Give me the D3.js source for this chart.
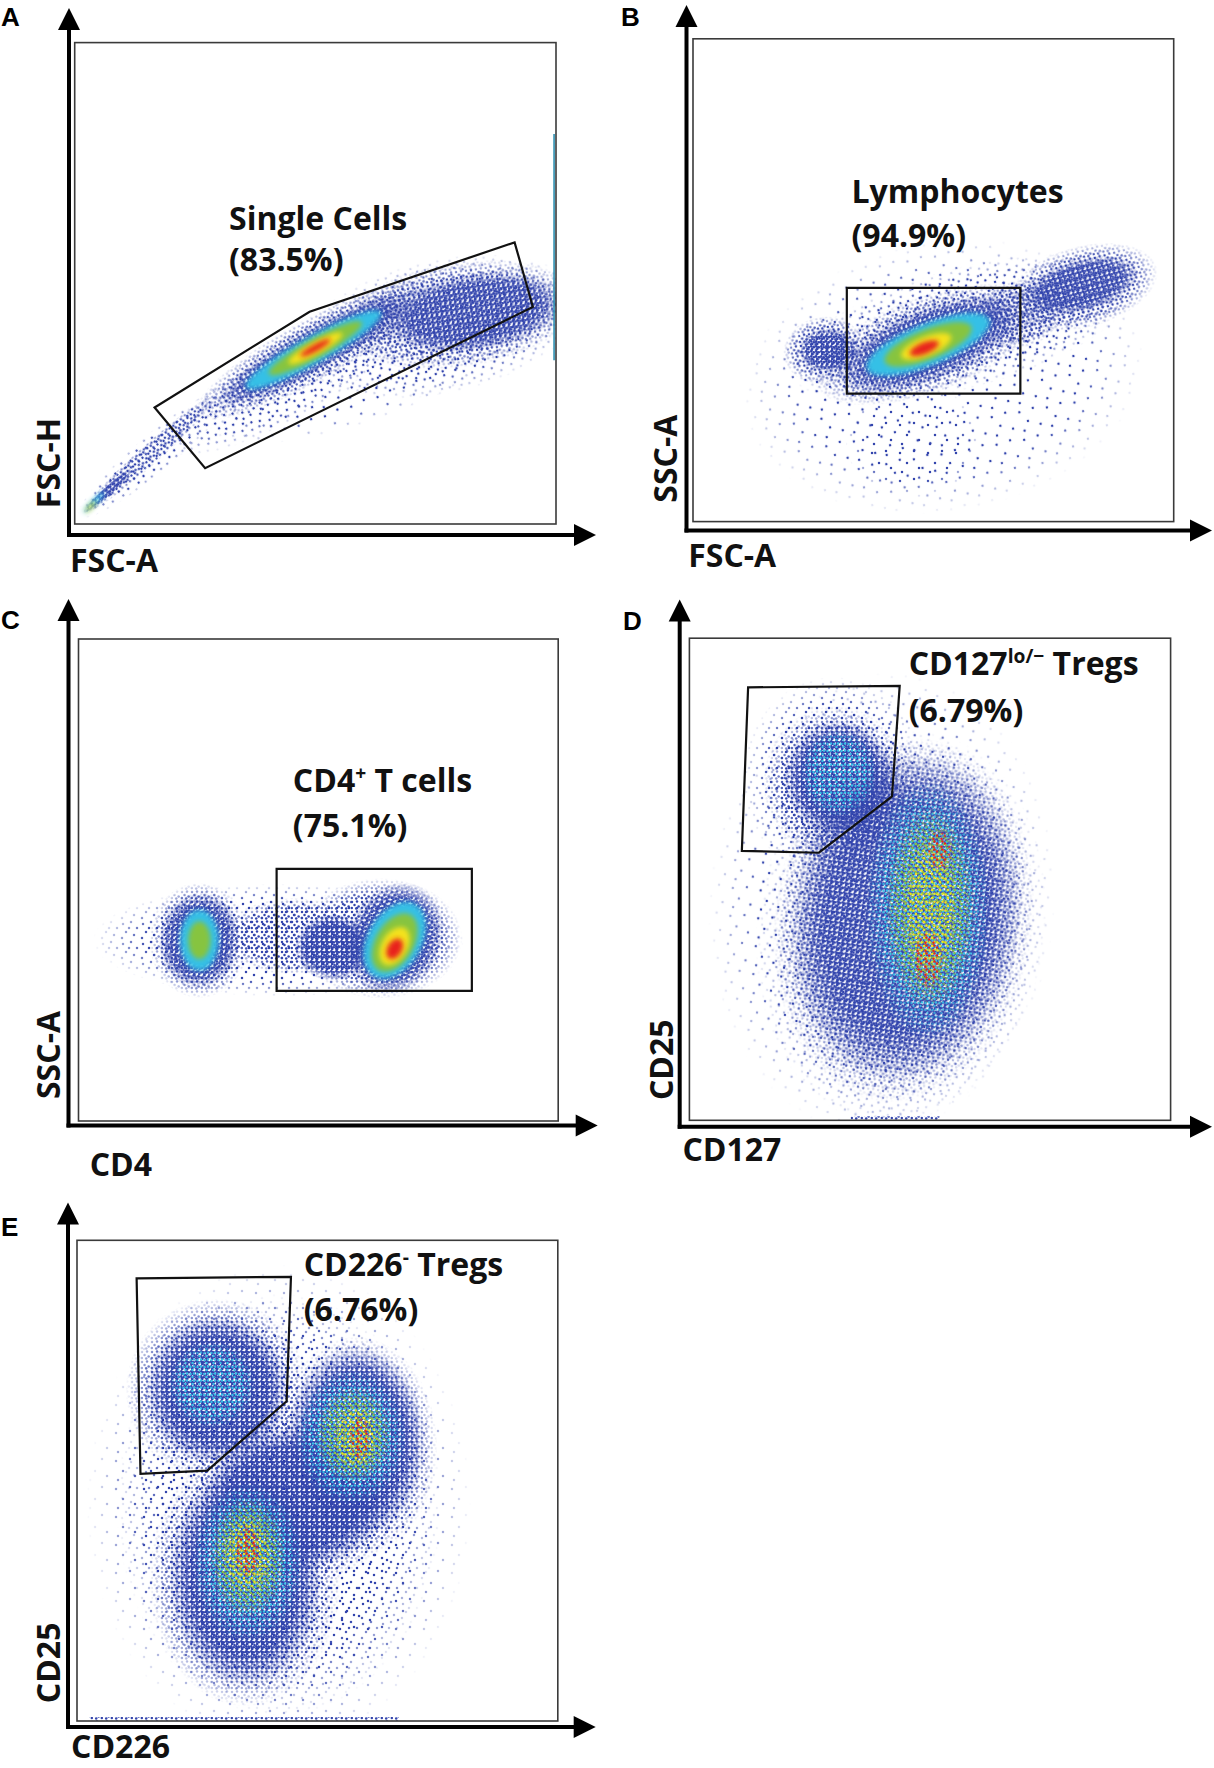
<!DOCTYPE html>
<html>
<head>
<meta charset="utf-8">
<script src="https://cdn.jsdelivr.net/npm/d3@7"></script>
<style>
    body { margin: 0; background: #fff; }
    svg { display: block; }
</style>
</head>
<body>
<div id="data-viz"></div>
<script>
// Every plot uses arbitrary channel units 0-100 on both axes (no ticks shown)
const panelLetters = ["A", "B", "C", "D", "E"]
const xAxisLabels = ["FSC-A", "FSC-A", "CD4", "CD127", "CD226"]
const yAxisLabels = ["FSC-H", "SSC-A", "SSC-A", "CD25", "CD25"]
// ^...^ marks a superscript
const gateNames = ["Single Cells", "Lymphocytes", "CD4^+^ T cells", "CD127^lo/\u2212^ Tregs", "CD226^-^ Tregs"]
const gatePercents = ["83.5", "94.9", "75.1", "6.79", "6.76"]

// gate vertices [x, y]
const gateA = [[16.6, 24.2], [48.8, 44.1], [91.4, 58.5], [95.2, 45.1], [27.1, 11.6]]
const gateB = [[32.0, 26.5], [68.1, 26.5], [68.1, 48.4], [32.0, 48.4]]
const gateC = [[41.3, 27.0], [82.0, 27.0], [82.0, 52.3], [41.3, 52.3]]
const gateD = [[12.2, 89.8], [43.7, 90.1], [42.1, 67.2], [26.9, 55.5], [10.9, 55.9]]
const gateE = [[12.4, 92.1], [44.5, 92.4], [43.6, 66.5], [27.1, 52.1], [13.2, 51.4]]

// event density regions: [level, x, y, radius x, radius y, tilt deg]
const cloudsA = [
    ["scatter", 62, 32, 36, 10, -20],
    ["sparse", 17, 15, 21, 4, -40],
    ["sparse", 45.5, 30.7, 30, 8, -30],
    ["sparse", 76, 41, 30, 14, -12],
    ["mid", 15.6, 14.5, 18.5, 2.2, -41.6],
    ["mid", 49.6, 36.2, 28, 6.5, -29],
    ["mid", 80, 43.5, 25, 11, -8],
    ["dense", 7, 7, 7, 1, -42],
    ["dense", 49.6, 36.2, 23, 4.5, -29],
    ["dense", 83, 44, 19, 8, -8],
    ["cyan", 49.6, 36.2, 16, 2.8, -29],
    ["cyan", 4, 4.5, 3, 0.5, -45],
    ["green", 50, 36.5, 11, 2, -29],
    ["yellow", 50, 36.5, 6.4, 1.3, -29],
    ["yellow", 3.3, 3.6, 1.5, 0.35, -45],
    ["red", 50, 36.6, 3.6, 0.7, -29]
]
const cloudsB = [
    ["scatter", 52, 30, 42, 28, -10],
    ["sparse", 56, 40, 37, 12.5, -15],
    ["scatter", 45.7, 16.8, 14, 12, 0],
    ["mid", 48.9, 36.7, 25, 10, -20],
    ["mid", 27.2, 35.5, 8.5, 7, -10],
    ["mid", 68, 43, 9, 7, -15],
    ["mid", 81.1, 48.6, 16, 8.5, -15],
    ["dense", 48.9, 36.7, 20, 7.5, -22],
    ["dense", 81, 49, 12, 5.5, -15],
    ["dense", 28, 35.5, 6, 4.5, 0],
    ["cyan", 48.9, 36.7, 13.7, 4.3, -22],
    ["green", 48.9, 36.7, 9.7, 3.1, -22],
    ["yellow", 48.5, 36.3, 5.6, 2, -22],
    ["red", 48.1, 35.9, 3.2, 1.2, -22]
]
const cloudsC = [
    ["sparse", 41.7, 37.5, 38.7, 11.7, 0],
    ["mid", 25.2, 37.5, 10.5, 12, 0],
    ["mid", 44.9, 38.3, 15, 8, 0],
    ["mid", 63, 37.9, 17, 12.5, 0],
    ["dense", 25.2, 37.5, 8.5, 10, 5],
    ["dense", 53, 36, 8, 7, 0],
    ["dense", 65.9, 37.9, 10, 12, 25],
    ["cyan", 25.2, 37.5, 4, 6.3, 0],
    ["cyan", 65.9, 37.5, 5.6, 8.6, 30],
    ["green", 25.2, 37.5, 2.3, 3.9, 0],
    ["green", 65.9, 37, 4, 6.6, 30],
    ["yellow", 65.9, 36.3, 2.7, 4.3, 30],
    ["red", 65.9, 35.7, 1.5, 2.3, 30]
]
const cloudsD = [
    ["scatter", 40, 45, 36, 48, 5],
    ["sparse", 30, 71, 19, 21, 0],
    ["sparse", 44, 40, 30, 41, 8],
    ["mid", 30.3, 70, 15, 16, 0],
    ["mid", 44.5, 41.5, 27, 38, 8],
    ["dense", 31, 71, 11.5, 12, 0],
    ["dense", 45, 42, 24, 34, 8],
    ["cyan", 31, 72, 8, 9, 0],
    ["cyan", 49.6, 43.6, 13, 27, 0],
    ["green", 50, 44, 9.5, 21, 0],
    ["yellow", 50, 44, 6, 15, 0],
    ["red", 52, 56.1, 2.8, 4.5, 0],
    ["red", 49.6, 33.4, 3.2, 6.5, 0]
]
const cloudsE = [
    ["scatter", 42, 45, 40, 50, 0],
    ["sparse", 42, 45, 33.8, 44, 0],
    ["mid", 29.1, 68.9, 19, 19, 0],
    ["mid", 58, 57, 17, 23, 0],
    ["mid", 35, 30, 20, 27, 0],
    ["mid", 45.2, 46.3, 22, 18, 0],
    ["dense", 29.1, 68.9, 15, 15.5, 0],
    ["dense", 58, 58, 14.5, 20, 0],
    ["dense", 35, 30, 16, 23, 0],
    ["dense", 45.2, 46.3, 19, 15, 0],
    ["cyan", 28, 70, 9, 9, 0],
    ["cyan", 57, 59, 11.5, 14, 0],
    ["cyan", 35.5, 33, 11.5, 16.5, 0],
    ["green", 57.5, 59.5, 8, 10, 0],
    ["green", 35.5, 34, 8, 12.5, 0],
    ["yellow", 58, 59, 5, 7, 0],
    ["yellow", 35.5, 34.6, 5.4, 8.5, 0],
    ["red", 58.8, 58.8, 2.3, 5, 0],
    ["red", 35.5, 35.3, 2.7, 5.8, 0]
]
// saturated events piled on an edge: [x0, x1] along the floor, or [x, y0, y1] on the right wall
const floorD = [33.5, 52]
const floorE = [2.6, 66.9]
const wallA = [99.6, 34, 81]

const gates = [gateA, gateB, gateC, gateD, gateE]
const clouds = [cloudsA, cloudsB, cloudsC, cloudsD, cloudsE]
const floors = [null, null, null, floorD, floorE]
const walls = [wallA, null, null, null, null]

// page layout (pixels)
const layout = [
    {box: [74.7, 42.6, 556, 524], axX: 69, axY: 535, tipY: 8, tipX: 596, letter: [1, 26],
        xLab: [70, 572], yLab: [60, 463], gLab: [229, 230, 271], core: "smooth"},
    {box: [693, 38.8, 1173.7, 521.6], axX: 686.5, axY: 530.5, tipY: 5, tipX: 1212, letter: [621, 26],
        xLab: [688.2, 566.9], yLab: [676.5, 458.7], gLab: [851.5, 203.4, 246.7], core: "smooth"},
    {box: [78.5, 639, 558.2, 1121], axX: 68.5, axY: 1125.6, tipY: 599, tipX: 597.7, letter: [1, 629],
        xLab: [89.7, 1175.7], yLab: [60, 1055], gLab: [292.8, 791.5, 836.7], core: "smooth"},
    {box: [689.4, 638.2, 1170.6, 1120.3], axX: 679.7, axY: 1126.7, tipY: 599.4, tipX: 1212, letter: [623, 630],
        xLab: [682.4, 1160.6], yLab: [672.7, 1059.7], gLab: [908.7, 674.7, 721.8], core: "speckle"},
    {box: [77, 1240.3, 557.8, 1721], axX: 68, axY: 1727, tipY: 1202.6, tipX: 595.7, letter: [1, 1236],
        xLab: [71, 1758], yLab: [60, 1662.9], gLab: [303.7, 1276, 1321.2], core: "speckle"}
]

const levelOrder = ["scatter", "sparse", "mid", "dense", "cyan", "green", "yellow", "red"]
const colors = {
    scatter: "#3244ad", sparse: "#3244ad", mid: "#3244ad", dense: "#3244ad",
    cyan: "#35c0e6", green: "#86c440", yellow: "#f4e21c", red: "#e8241c"
}
const tiles = {
    scatter: {size: 28, r: 1.25, pts: [[4, 5], [18, 3], [11, 15], [23, 20], [6, 24]]},
    sparse: {size: 20, r: 1.25, pts: [[3, 4], [11, 2], [17, 8], [6, 12], [14, 15], [2, 18], [9, 8]]},
    mid: {size: 10, r: 1.25, pts: [[2, 2], [7, 1.6], [4.5, 5], [8.6, 6.5], [1.8, 8], [6.2, 8.6]]},
    dense: {size: 5, r: 1.3, pts: [[1.3, 1.4], [3.8, 2.2], [2.2, 3.9]]},
    cyan: {size: 7, r: 1.2, pts: [[1.5, 2], [5, 1.5], [3.5, 5]]},
    green: {size: 7, r: 1.2, pts: [[2.5, 1], [5.8, 4], [1.2, 5.4]]},
    yellow: {size: 8, r: 1.2, pts: [[4, 2], [1.5, 6.5], [6.5, 5.8]]},
    red: {size: 8, r: 1.2, pts: [[1, 3.5], [5.5, 6.8], [6.5, 1.5]]}
}
const labelFont = "'Open Sans', 'DejaVu Sans', sans-serif"

const svg = d3.select("#data-viz").append("svg")
    .attr("width", 1214)
    .attr("height", 1768)
    .style("background", "#fff")

const defs = svg.append("defs")

Object.entries(tiles).forEach(([key, t]) => {
    defs.append("pattern")
        .attr("id", "dots-" + key)
        .attr("patternUnits", "userSpaceOnUse")
        .attr("width", t.size)
        .attr("height", t.size)
        .selectAll("circle")
        .data(t.pts)
        .join("circle")
            .attr("cx", d => d[0])
            .attr("cy", d => d[1])
            .attr("r", t.r)
            .attr("fill", colors[key])
})

defs.append("filter")
    .attr("id", "soft")
    .attr("filterUnits", "userSpaceOnUse")
    .attr("x", -3000).attr("y", -3000)
    .attr("width", 8000).attr("height", 8000)
    .append("feGaussianBlur")
    .attr("stdDeviation", 2.5)

// soft edge for dotted regions, so density falls off towards the rim
const fadeGrad = defs.append("radialGradient").attr("id", "fade-grad")
fadeGrad.append("stop").attr("offset", 0).attr("stop-color", "#fff")
fadeGrad.append("stop").attr("offset", 0.7).attr("stop-color", "#fff")
fadeGrad.append("stop").attr("offset", 1).attr("stop-color", "#000")
defs.append("mask")
    .attr("id", "fade")
    .attr("maskContentUnits", "objectBoundingBox")
    .append("rect")
    .attr("width", 1).attr("height", 1)
    .attr("fill", "url(#fade-grad)")

function isColourLevel(level) {
    return levelOrder.indexOf(level) > 3
}

function addLabel(g, x, y, text, size) {
    const t = g.append("text")
        .attr("x", x)
        .attr("y", y)
        .attr("font-family", labelFont)
        .attr("font-weight", 700)
        .attr("font-size", size)
        .attr("fill", "#111")
    const parts = text.split("^")
    let shifted = false
    parts.forEach((part, k) => {
        if (part === "") return
        const sup = k % 2 === 1
        let dy = 0
        if (sup && !shifted) { dy = -12; shifted = true }
        if (!sup && shifted) { dy = 12; shifted = false }
        t.append("tspan")
            .attr("dy", dy)
            .attr("font-size", sup ? size * 0.6 : size)
            .text(part)
    })
    return t
}

function drawPanel(i) {
    const L = layout[i]
    const [x0, y0, x1, y1] = L.box

    const x = d3.scaleLinear().domain([0, 100]).range([x0, x1])
    const y = d3.scaleLinear().domain([0, 100]).range([y1, y0])

    const g = svg.append("g").attr("class", "panel-" + panelLetters[i])

    defs.append("clipPath")
        .attr("id", "clip-" + i)
        .append("rect")
        .attr("x", x0).attr("y", y0)
        .attr("width", x1 - x0).attr("height", y1 - y0)

    const plot = g.append("g").attr("clip-path", `url(#clip-${i})`)

    const smooth = L.core === "smooth"
    const data = clouds[i].slice()
        .sort((a, b) => levelOrder.indexOf(a[0]) - levelOrder.indexOf(b[0]))

    plot.selectAll("ellipse")
        .data(data)
        .join("ellipse")
            .attr("cx", d => x(d[1]))
            .attr("cy", d => y(d[2]))
            .attr("rx", d => x(d[3]) - x(0))
            .attr("ry", d => y(0) - y(d[4]))
            .attr("transform", d => `rotate(${d[5]},${x(d[1])},${y(d[2])})`)
            .attr("fill", d => smooth && isColourLevel(d[0]) ? colors[d[0]] : `url(#dots-${d[0]})`)
            .attr("filter", d => smooth && isColourLevel(d[0]) ? "url(#soft)" : null)
            .attr("mask", d => smooth && isColourLevel(d[0]) ? null : "url(#fade)")

    if (floors[i]) {
        plot.append("rect")
            .attr("x", x(floors[i][0]))
            .attr("width", x(floors[i][1]) - x(floors[i][0]))
            .attr("y", y(0) - 4)
            .attr("height", 4)
            .attr("fill", "url(#dots-mid)")
    }
    if (walls[i]) {
        plot.append("line")
            .attr("x1", x(walls[i][0])).attr("x2", x(walls[i][0]))
            .attr("y1", y(walls[i][1])).attr("y2", y(walls[i][2]))
            .attr("stroke", "#2e8fb0")
            .attr("stroke-width", 1.6)
    }

    // plot frame
    g.append("rect")
        .attr("x", x0).attr("y", y0)
        .attr("width", x1 - x0).attr("height", y1 - y0)
        .attr("fill", "none")
        .attr("stroke", "#3a3a3a")
        .attr("stroke-width", 1.6)

    // gate
    const gateLine = d3.line().x(d => x(d[0])).y(d => y(d[1]))
    g.append("path")
        .attr("d", gateLine(gates[i]) + "Z")
        .attr("fill", "none")
        .attr("stroke", "#111")
        .attr("stroke-width", 2.2)
        .attr("stroke-linejoin", "miter")

    // arrow axes
    const head = 22
    g.append("line")
        .attr("x1", L.axX).attr("x2", L.axX)
        .attr("y1", L.axY + 2).attr("y2", L.tipY + head - 2)
        .attr("stroke", "#000").attr("stroke-width", 4)
    g.append("line")
        .attr("x1", L.axX - 2).attr("x2", L.tipX - head + 2)
        .attr("y1", L.axY).attr("y2", L.axY)
        .attr("stroke", "#000").attr("stroke-width", 4)
    g.append("polygon")
        .attr("points", [[L.axX - 11, L.tipY + head], [L.axX + 11, L.tipY + head], [L.axX, L.tipY]].join(" "))
        .attr("fill", "#000")
    g.append("polygon")
        .attr("points", [[L.tipX - head, L.axY - 11], [L.tipX - head, L.axY + 11], [L.tipX, L.axY]].join(" "))
        .attr("fill", "#000")

    // texts
    g.append("text")
        .attr("x", L.letter[0]).attr("y", L.letter[1])
        .attr("font-family", "'Liberation Sans', Arial, sans-serif")
        .attr("font-weight", 700)
        .attr("font-size", 26)
        .text(panelLetters[i])

    addLabel(g, L.xLab[0], L.xLab[1], xAxisLabels[i], 32)

    g.append("text")
        .attr("transform", `translate(${L.yLab[0]},${L.yLab[1]}) rotate(-90)`)
        .attr("text-anchor", "middle")
        .attr("font-family", labelFont)
        .attr("font-weight", 700)
        .attr("font-size", 32)
        .attr("fill", "#111")
        .text(yAxisLabels[i])

    addLabel(g, L.gLab[0], L.gLab[1], gateNames[i], 32)
    addLabel(g, L.gLab[0], L.gLab[2], "(" + gatePercents[i] + "%)", 32)
}

d3.range(panelLetters.length).forEach(drawPanel)
</script>
</body>
</html>
